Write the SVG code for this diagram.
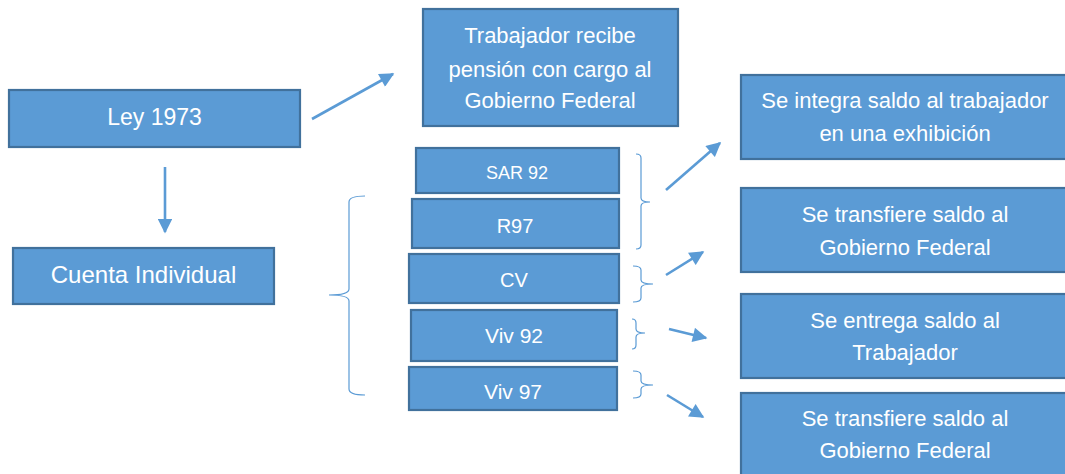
<svg xmlns="http://www.w3.org/2000/svg" width="1065" height="474" viewBox="0 0 1065 474">
<style>
.box{fill:#5B9BD5;stroke:#41719C;stroke-width:2.2}
.t{fill:#ffffff;font-family:"Liberation Sans",Arial,sans-serif;text-anchor:middle}
.arr{stroke:#5B9BD5;stroke-width:2.6;fill:none;marker-end:url(#ah)}
.br{stroke:#5B9BD5;stroke-width:1.2;fill:none}
</style>
<defs>
<marker id="ah" viewBox="0 0 10 10" refX="9" refY="5" markerWidth="6" markerHeight="5.6" orient="auto" markerUnits="strokeWidth">
<path d="M0,0 L10,5 L0,10 z" fill="#5B9BD5"/>
</marker>
</defs>
<rect width="1065" height="474" fill="#ffffff"/>

<g id="ley1973"><rect class="box" x="9" y="90" width="291" height="57"/><text class="t" x="154.5" y="125" font-size="23">Ley 1973</text></g>
<g id="cuenta"><rect class="box" x="13" y="248" width="261" height="56"/><text class="t" x="143.5" y="283" font-size="24">Cuenta Individual</text></g>
<g id="trabajador"><rect class="box" x="423" y="9" width="255" height="117"/>
<text class="t" x="550" y="43" font-size="22">Trabajador recibe</text>
<text class="t" x="550" y="77" font-size="22">pensión con cargo al</text>
<text class="t" x="550" y="108" font-size="22">Gobierno Federal</text></g>

<g id="sar92"><rect class="box" x="416" y="148" width="203" height="45"/><text class="t" x="517" y="179" font-size="18">SAR 92</text></g>
<g id="r97"><rect class="box" x="412" y="199" width="207" height="49"/><text class="t" x="515" y="233" font-size="20">R97</text></g>
<g id="cv"><rect class="box" x="409" y="254" width="210" height="49"/><text class="t" x="514" y="287" font-size="20">CV</text></g>
<g id="viv92"><rect class="box" x="411" y="310" width="206" height="51"/><text class="t" x="514" y="343" font-size="21">Viv 92</text></g>
<g id="viv97"><rect class="box" x="409" y="367" width="208" height="43"/><text class="t" x="513" y="399" font-size="21">Viv 97</text></g>

<g id="r1"><rect class="box" x="741" y="75" width="330" height="84"/>
<text class="t" x="905" y="108" font-size="22">Se integra saldo al trabajador</text>
<text class="t" x="905" y="141" font-size="22">en una exhibición</text></g>
<g id="r2"><rect class="box" x="741" y="188" width="330" height="84"/>
<text class="t" x="905" y="222" font-size="22">Se transfiere saldo al</text>
<text class="t" x="905" y="255" font-size="22">Gobierno Federal</text></g>
<g id="r3"><rect class="box" x="741" y="294" width="330" height="84"/>
<text class="t" x="905" y="328" font-size="22">Se entrega saldo al</text>
<text class="t" x="905" y="360" font-size="22">Trabajador</text></g>
<g id="r4"><rect class="box" x="741" y="393" width="330" height="90"/>
<text class="t" x="905" y="426" font-size="22">Se transfiere saldo al</text>
<text class="t" x="905" y="458" font-size="22">Gobierno Federal</text></g>

<g id="connectors">
<line class="arr" x1="312" y1="119" x2="393" y2="74"/>
<line class="arr" x1="165" y1="167" x2="165" y2="232"/>
<line class="arr" x1="666" y1="190" x2="720" y2="143"/>
<line class="arr" x1="666" y1="275" x2="703" y2="252"/>
<line class="arr" x1="669" y1="329" x2="706" y2="338"/>
<line class="arr" x1="667" y1="395" x2="703" y2="417"/>
<path class="br" d="M365,196 Q349,196 349,202 L349,289 Q349,295 329,295 Q349,295 349,301 L349,389 Q349,395 365,395"/>
<path class="br" d="M636,154 Q641,154 641,158 L641,198 Q641,202 650,202 Q641,202 641,206 L641,245 Q641,249 636,249"/>
<path class="br" d="M633,266 Q641,266 641,270 L641,280 Q641,284 653,284 Q641,284 641,288 L641,298 Q641,302 633,302"/>
<path class="br" d="M632,319 Q636,319 636,323 L636,329 Q636,333 645,333 Q636,333 636,337 L636,345 Q636,349 632,349"/>
<path class="br" d="M633,371 Q641,371 641,375 L641,381 Q641,385 653,385 Q641,385 641,389 L641,394 Q641,398 633,398"/>
</g>
</svg>
